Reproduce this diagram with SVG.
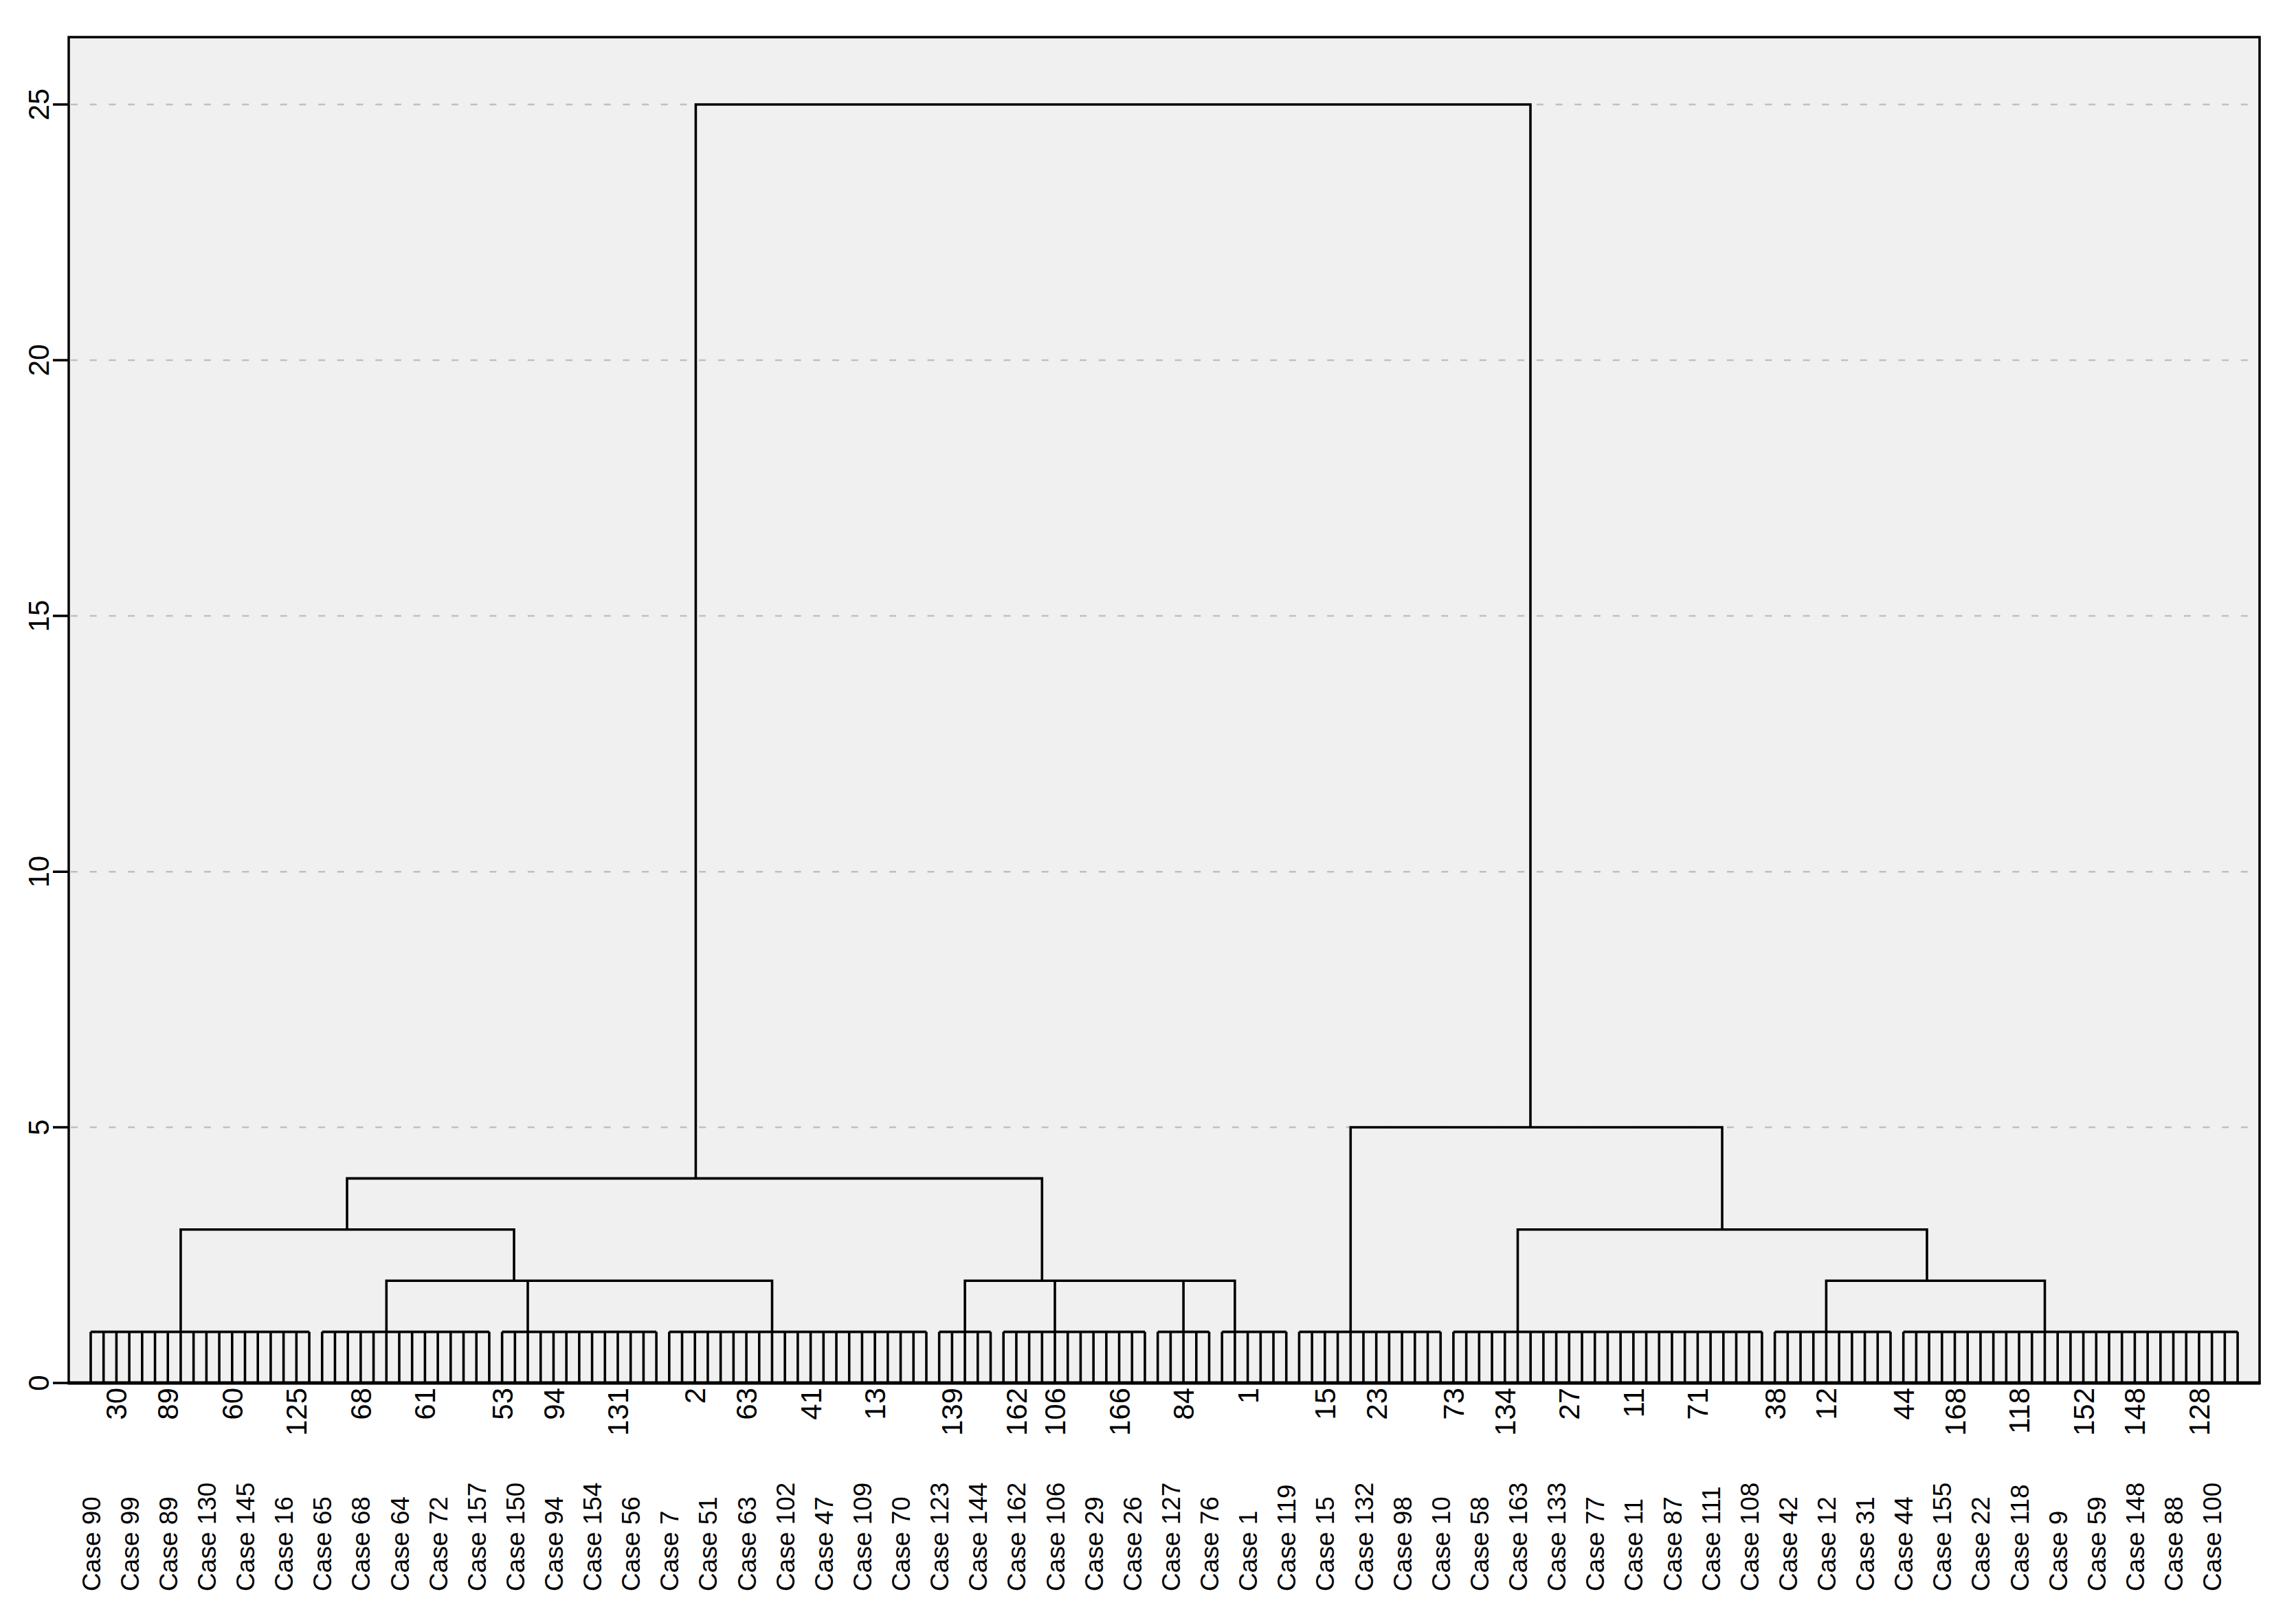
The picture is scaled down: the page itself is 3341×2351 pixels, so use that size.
<svg xmlns="http://www.w3.org/2000/svg" width="3341" height="2351" viewBox="0 0 3341 2351">
<style>
text{font-family:"Liberation Sans",Arial,sans-serif;fill:#000}
.ax{font-size:42px;text-anchor:middle}
.top{font-size:42px;text-anchor:end}
.case{font-size:37px;text-anchor:start}
.grid{stroke:#c0c0c0;stroke-width:2.5;stroke-dasharray:10 17.7;fill:none}
.tree{stroke:#000;stroke-width:3.6;fill:none}
</style>
<rect x="0" y="0" width="3341" height="2351" fill="#fff"/>
<g id="plot-area">
<rect x="100" y="54" width="3188" height="1958" fill="#f0f0f0"/>
</g>
<g id="gridlines">
<path class="grid" d="M103 1640H3286M103 1268.2H3286M103 896.1H3286M103 523.9H3286M103 152H3286"/>
</g>
<g id="connectors">
<line x1="130.2" y1="1974.8" x2="3257.9" y2="1974.8" stroke="#000" stroke-width="74.4" stroke-dasharray="3.6 15.107"/>
<path class="tree" d="M132 1937.6H450M468.7 1937.6H711.9M730.6 1937.6H955.1M973.8 1937.6H1348M1366.7 1937.6H1441.5M1460.2 1937.6H1666M1684.7 1937.6H1759.5M1778.2 1937.6H1871.8M1890.5 1937.6H2096.2M2114.9 1937.6H2563.9M2582.6 1937.6H2751M2769.7 1937.6H3256.1"/>
<path class="tree" d="M262.95 1937.6V1788.8H748V1863.2M562.3 1937.6V1863.2H1123.5V1937.6M768 1937.6V1863.2M505 1788.8V1714.4H1516.3V1863.2M1404.1 1937.6V1863.2H1796.9V1937.6M1535 1937.6V1863.2M1722.1 1937.6V1863.2M1012.4 1714.4V152H2227V1640M1965.3 1937.6V1640H2506V1788.8M2208.5 1937.6V1788.8H2804V1863.2M2657.4 1937.6V1863.2H2975.5V1937.6"/>
</g>
<g id="axes">
<rect x="100" y="54" width="3188" height="1958" fill="none" stroke="#000" stroke-width="3.5"/>
<line x1="98.5" y1="2012" x2="3289.5" y2="2012" stroke="#000" stroke-width="5"/>
<path stroke="#000" stroke-width="3.5" d="M77 2012H100M77 1640H100M77 1268.2H100M77 896.1H100M77 523.9H100M77 152H100"/>
<text class="ax" transform="translate(71 2012) rotate(-90)">0</text>
<text class="ax" transform="translate(71 1640) rotate(-90)">5</text>
<text class="ax" transform="translate(71 1268.2) rotate(-90)">10</text>
<text class="ax" transform="translate(71 896.1) rotate(-90)">15</text>
<text class="ax" transform="translate(71 523.9) rotate(-90)">20</text>
<text class="ax" transform="translate(71 152) rotate(-90)">25</text>
</g>
<g id="top-labels">
<g id="top-30"><text class="top" transform="translate(184.4 2019) rotate(-90)">30</text></g>
<g id="top-89"><text class="top" transform="translate(259.2 2019) rotate(-90)">89</text></g>
<g id="top-60"><text class="top" transform="translate(352.8 2019) rotate(-90)">60</text></g>
<g id="top-125"><text class="top" transform="translate(446.3 2019) rotate(-90)">125</text></g>
<g id="top-68"><text class="top" transform="translate(539.8 2019) rotate(-90)">68</text></g>
<g id="top-61"><text class="top" transform="translate(633.4 2019) rotate(-90)">61</text></g>
<g id="top-53"><text class="top" transform="translate(745.6 2019) rotate(-90)">53</text></g>
<g id="top-94"><text class="top" transform="translate(820.5 2019) rotate(-90)">94</text></g>
<g id="top-131"><text class="top" transform="translate(914 2019) rotate(-90)">131</text></g>
<g id="top-2"><text class="top" transform="translate(1026.2 2019) rotate(-90)">2</text></g>
<g id="top-63"><text class="top" transform="translate(1101.1 2019) rotate(-90)">63</text></g>
<g id="top-41"><text class="top" transform="translate(1194.6 2019) rotate(-90)">41</text></g>
<g id="top-13"><text class="top" transform="translate(1288.1 2019) rotate(-90)">13</text></g>
<g id="top-139"><text class="top" transform="translate(1400.4 2019) rotate(-90)">139</text></g>
<g id="top-162"><text class="top" transform="translate(1493.9 2019) rotate(-90)">162</text></g>
<g id="top-106"><text class="top" transform="translate(1550 2019) rotate(-90)">106</text></g>
<g id="top-166"><text class="top" transform="translate(1643.6 2019) rotate(-90)">166</text></g>
<g id="top-84"><text class="top" transform="translate(1737.1 2019) rotate(-90)">84</text></g>
<g id="top-1"><text class="top" transform="translate(1830.6 2019) rotate(-90)">1</text></g>
<g id="top-15"><text class="top" transform="translate(1942.9 2019) rotate(-90)">15</text></g>
<g id="top-23"><text class="top" transform="translate(2017.7 2019) rotate(-90)">23</text></g>
<g id="top-73"><text class="top" transform="translate(2129.9 2019) rotate(-90)">73</text></g>
<g id="top-134"><text class="top" transform="translate(2204.8 2019) rotate(-90)">134</text></g>
<g id="top-27"><text class="top" transform="translate(2298.3 2019) rotate(-90)">27</text></g>
<g id="top-11"><text class="top" transform="translate(2391.8 2019) rotate(-90)">11</text></g>
<g id="top-71"><text class="top" transform="translate(2485.4 2019) rotate(-90)">71</text></g>
<g id="top-38"><text class="top" transform="translate(2597.6 2019) rotate(-90)">38</text></g>
<g id="top-12"><text class="top" transform="translate(2672.4 2019) rotate(-90)">12</text></g>
<g id="top-44"><text class="top" transform="translate(2784.7 2019) rotate(-90)">44</text></g>
<g id="top-168"><text class="top" transform="translate(2859.5 2019) rotate(-90)">168</text></g>
<g id="top-118"><text class="top" transform="translate(2953.1 2019) rotate(-90)">118</text></g>
<g id="top-152"><text class="top" transform="translate(3046.6 2019) rotate(-90)">152</text></g>
<g id="top-148"><text class="top" transform="translate(3121.4 2019) rotate(-90)">148</text></g>
<g id="top-128"><text class="top" transform="translate(3214.9 2019) rotate(-90)">128</text></g>
</g>
<g id="case-labels">
<g id="case-90"><text class="case" transform="translate(145.5 2315) rotate(-90)">Case 90</text></g>
<g id="case-99"><text class="case" transform="translate(201.6 2315) rotate(-90)">Case 99</text></g>
<g id="case-89"><text class="case" transform="translate(257.7 2315) rotate(-90)">Case 89</text></g>
<g id="case-130"><text class="case" transform="translate(313.9 2315) rotate(-90)">Case 130</text></g>
<g id="case-145"><text class="case" transform="translate(370 2315) rotate(-90)">Case 145</text></g>
<g id="case-16"><text class="case" transform="translate(426.1 2315) rotate(-90)">Case 16</text></g>
<g id="case-65"><text class="case" transform="translate(482.2 2315) rotate(-90)">Case 65</text></g>
<g id="case-68"><text class="case" transform="translate(538.3 2315) rotate(-90)">Case 68</text></g>
<g id="case-64"><text class="case" transform="translate(594.5 2315) rotate(-90)">Case 64</text></g>
<g id="case-72"><text class="case" transform="translate(650.6 2315) rotate(-90)">Case 72</text></g>
<g id="case-157"><text class="case" transform="translate(706.7 2315) rotate(-90)">Case 157</text></g>
<g id="case-150"><text class="case" transform="translate(762.8 2315) rotate(-90)">Case 150</text></g>
<g id="case-94"><text class="case" transform="translate(819 2315) rotate(-90)">Case 94</text></g>
<g id="case-154"><text class="case" transform="translate(875.1 2315) rotate(-90)">Case 154</text></g>
<g id="case-56"><text class="case" transform="translate(931.2 2315) rotate(-90)">Case 56</text></g>
<g id="case-7"><text class="case" transform="translate(987.3 2315) rotate(-90)">Case 7</text></g>
<g id="case-51"><text class="case" transform="translate(1043.4 2315) rotate(-90)">Case 51</text></g>
<g id="case-63"><text class="case" transform="translate(1099.6 2315) rotate(-90)">Case 63</text></g>
<g id="case-102"><text class="case" transform="translate(1155.7 2315) rotate(-90)">Case 102</text></g>
<g id="case-47"><text class="case" transform="translate(1211.8 2315) rotate(-90)">Case 47</text></g>
<g id="case-109"><text class="case" transform="translate(1267.9 2315) rotate(-90)">Case 109</text></g>
<g id="case-70"><text class="case" transform="translate(1324 2315) rotate(-90)">Case 70</text></g>
<g id="case-123"><text class="case" transform="translate(1380.2 2315) rotate(-90)">Case 123</text></g>
<g id="case-144"><text class="case" transform="translate(1436.3 2315) rotate(-90)">Case 144</text></g>
<g id="case-162"><text class="case" transform="translate(1492.4 2315) rotate(-90)">Case 162</text></g>
<g id="case-106"><text class="case" transform="translate(1548.5 2315) rotate(-90)">Case 106</text></g>
<g id="case-29"><text class="case" transform="translate(1604.6 2315) rotate(-90)">Case 29</text></g>
<g id="case-26"><text class="case" transform="translate(1660.8 2315) rotate(-90)">Case 26</text></g>
<g id="case-127"><text class="case" transform="translate(1716.9 2315) rotate(-90)">Case 127</text></g>
<g id="case-76"><text class="case" transform="translate(1773 2315) rotate(-90)">Case 76</text></g>
<g id="case-1"><text class="case" transform="translate(1829.1 2315) rotate(-90)">Case 1</text></g>
<g id="case-119"><text class="case" transform="translate(1885.3 2315) rotate(-90)">Case 119</text></g>
<g id="case-15"><text class="case" transform="translate(1941.4 2315) rotate(-90)">Case 15</text></g>
<g id="case-132"><text class="case" transform="translate(1997.5 2315) rotate(-90)">Case 132</text></g>
<g id="case-98"><text class="case" transform="translate(2053.6 2315) rotate(-90)">Case 98</text></g>
<g id="case-10"><text class="case" transform="translate(2109.7 2315) rotate(-90)">Case 10</text></g>
<g id="case-58"><text class="case" transform="translate(2165.9 2315) rotate(-90)">Case 58</text></g>
<g id="case-163"><text class="case" transform="translate(2222 2315) rotate(-90)">Case 163</text></g>
<g id="case-133"><text class="case" transform="translate(2278.1 2315) rotate(-90)">Case 133</text></g>
<g id="case-77"><text class="case" transform="translate(2334.2 2315) rotate(-90)">Case 77</text></g>
<g id="case-11"><text class="case" transform="translate(2390.3 2315) rotate(-90)">Case 11</text></g>
<g id="case-87"><text class="case" transform="translate(2446.5 2315) rotate(-90)">Case 87</text></g>
<g id="case-111"><text class="case" transform="translate(2502.6 2315) rotate(-90)">Case 111</text></g>
<g id="case-108"><text class="case" transform="translate(2558.7 2315) rotate(-90)">Case 108</text></g>
<g id="case-42"><text class="case" transform="translate(2614.8 2315) rotate(-90)">Case 42</text></g>
<g id="case-12"><text class="case" transform="translate(2670.9 2315) rotate(-90)">Case 12</text></g>
<g id="case-31"><text class="case" transform="translate(2727.1 2315) rotate(-90)">Case 31</text></g>
<g id="case-44"><text class="case" transform="translate(2783.2 2315) rotate(-90)">Case 44</text></g>
<g id="case-155"><text class="case" transform="translate(2839.3 2315) rotate(-90)">Case 155</text></g>
<g id="case-22"><text class="case" transform="translate(2895.4 2315) rotate(-90)">Case 22</text></g>
<g id="case-118"><text class="case" transform="translate(2951.6 2315) rotate(-90)">Case 118</text></g>
<g id="case-9"><text class="case" transform="translate(3007.7 2315) rotate(-90)">Case 9</text></g>
<g id="case-59"><text class="case" transform="translate(3063.8 2315) rotate(-90)">Case 59</text></g>
<g id="case-148"><text class="case" transform="translate(3119.9 2315) rotate(-90)">Case 148</text></g>
<g id="case-88"><text class="case" transform="translate(3176 2315) rotate(-90)">Case 88</text></g>
<g id="case-100"><text class="case" transform="translate(3232.2 2315) rotate(-90)">Case 100</text></g>
</g>
</svg>
